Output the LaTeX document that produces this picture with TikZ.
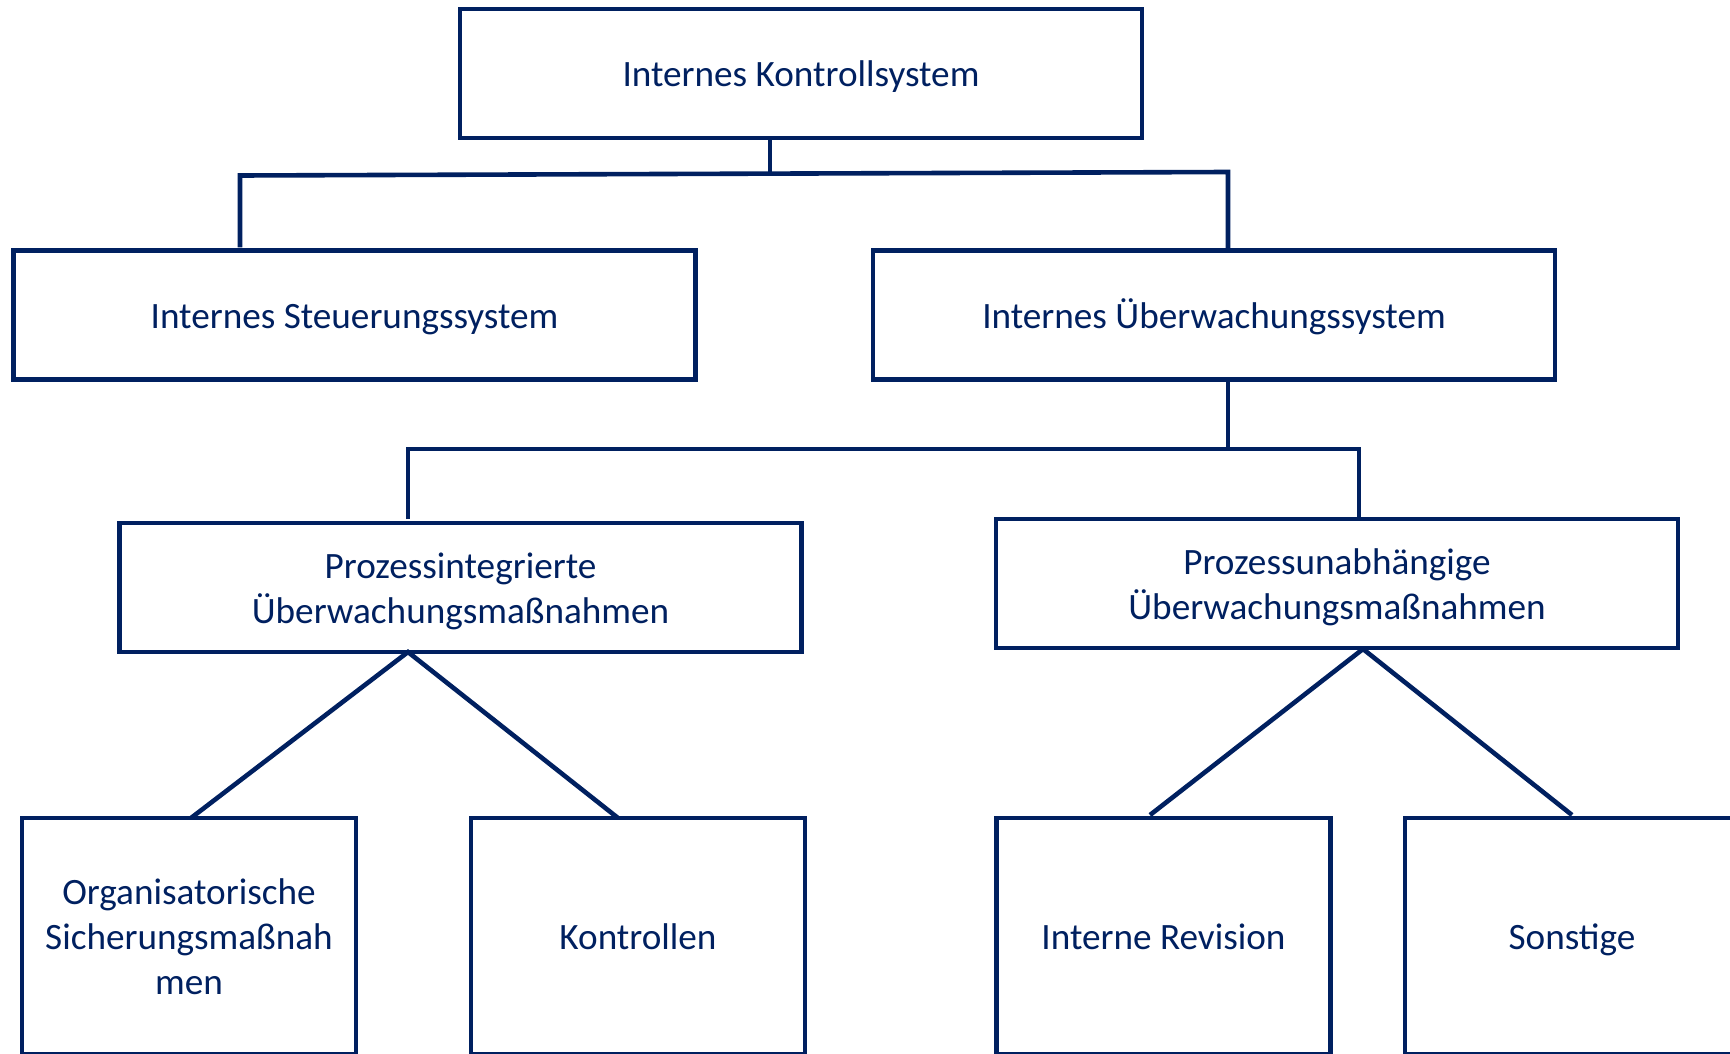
\documentclass[tikz,border=0pt]{standalone}
\usepackage{fontspec}
\setmainfont{Carlito}
\definecolor{navy}{RGB}{0,32,96}
% every label gets the same first-line height and no final depth,
% so the baselines sit at the same place in boxes of equal size
\newcommand\firstline[1]{\rule{0pt}{0.7em}\smash{#1}}
\newcommand\nextline[1]{\smash{#1}}
\tikzset{
  box/.style={draw=navy, line width=2.3pt, rectangle, inner sep=0pt,
    align=center, text=navy, font=\fontsize{18.6}{22.5}\selectfont},
  wide/.style={box, minimum width=341pt, minimum height=64.5pt},
  leaf/.style={box, minimum width=167pt, minimum height=118pt},
  link/.style={draw=navy, line width=2.3pt}
}
\begin{document}
\begin{tikzpicture}[x=0.5pt, y=-0.5pt]
  \useasboundingbox (0,0) rectangle (1730,1054);

  % first level
  \node[wide] (iks) at (801,73.5) {\firstline{Internes Kontrollsystem}};
  \node[wide] (iss) at (354.5,315) {\firstline{Internes Steuerungssystem}};
  \node[wide] (ius) at (1214,315) {\firstline{Internes Überwachungssystem}};

  % second level
  \node[wide] (pi) at (460.5,587.5)
    {\firstline{Prozessintegrierte}\\\nextline{Überwachungsmaßnahmen}};
  \node[wide] (pu) at (1337,583.5)
    {\firstline{Prozessunabhängige}\\\nextline{Überwachungsmaßnahmen}};

  % leaves
  \node[leaf] (org) at (189,936)
    {\firstline{Organisatorische}\\\nextline{Sicherungsmaßnah}\\\nextline{men}};
  \node[leaf] (kon) at (638,936) {\firstline{Kontrollen}};
  \node[leaf] (rev) at (1163.5,936) {\firstline{Interne Revision}};
  \node[leaf] (son) at (1572,936) {\firstline{Sonstige}};

  % bracket under the top box
  \coordinate (j1) at (770,173.5);
  \coordinate (b1l) at (240,175.5);
  \coordinate (b1r) at (1228,172);
  \coordinate (d1l) at (240,245);
  \draw[link] (iks.south -| j1) -- (j1);
  \draw[link, line cap=rect] (d1l) -- (b1l) -- (b1r) -- (b1r |- ius.north);

  % bracket under the monitoring system
  \coordinate (j2) at (1228,449);
  \coordinate (b2l) at (408,449);
  \coordinate (b2r) at (1359,449);
  \coordinate (d2l) at (408,519);
  \draw[link] (ius.south -| j2) -- (j2);
  \draw[link] (d2l) -- (b2l) -- (b2r) -- (b2r |- pu.north);

  % fan-out to the leaves
  \coordinate (f1) at (408,652);
  \coordinate (f2) at (1363,649);
  \coordinate (t1) at (191,818);
  \coordinate (t2) at (618,818);
  \coordinate (t3) at (1150,815);
  \coordinate (t4) at (1572,815);
  \draw[link] (t1) -- (f1) -- (t2);
  \draw[link] (t3) -- (f2) -- (t4);
\end{tikzpicture}
\end{document}
